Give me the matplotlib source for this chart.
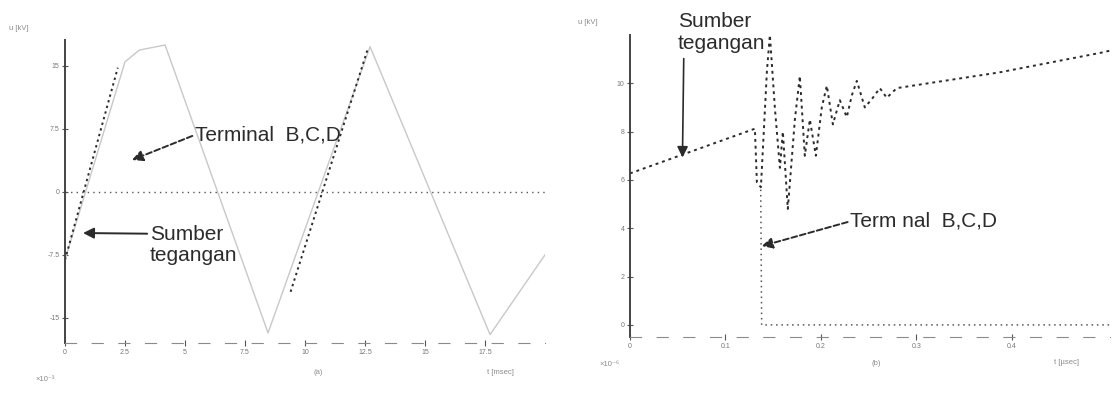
import numpy as np
from matplotlib import pyplot as plt

plt.rcParams['font.family'] = ['Liberation Sans', 'DejaVu Sans']

# (a) switching transient, time in ms, voltage in kV
tA_terminal = [0.0, 2.5, 3.1, 4.17, 8.46, 12.71, 17.71, 20.0]
vA_terminal = [-8.1, 15.5, 16.9, 17.5, -16.8, 17.3, -17.0, -7.5]
tA_source = [0.0, 2.2, np.nan, 9.4, 12.6]
vA_source = [-8.1, 14.8, np.nan, -11.9, 16.9]
tA_ticks = [0, 2.5, 5, 7.5, 10, 12.5, 15, 17.5]
vA_ticks = [-15, -7.5, 0, 7.5, 15]

# (b) lightning surge, time in usec
tB_source = [0.0, 0.1309, 0.1330, 0.1372, 0.1435, 0.1466, 0.1518, 0.1571,
             0.1602, 0.1654, 0.1728, 0.1780, 0.1832, 0.1885, 0.1948, 0.2010,
             0.2063, 0.2126, 0.2199, 0.2272, 0.2325, 0.2377, 0.2461, 0.2545,
             0.2618, 0.2691, 0.2796, 0.387, 0.493, 0.503]
vB_source = [6.27, 8.12, 5.9, 5.7, 10.5, 12.0, 9.0, 6.5,
             8.0, 4.8, 8.5, 10.3, 7.0, 8.5, 7.0, 9.0,
             9.9, 8.3, 9.3, 8.6, 9.5, 10.1, 9.0, 9.4,
             9.8, 9.4, 9.8, 10.45, 11.26, 11.35]
tB_terminal = [0.137, 0.138, 0.503]
vB_terminal = [5.6, 0.0, 0.0]
tB_ticks = [0, 0.1, 0.2, 0.3, 0.4]
vB_ticks = [0, 2, 4, 6, 8, 10]

ink = '#2b2b2b'
faint = '#c8c8c8'
lbl = dict(fontsize=15, color=ink)

fig = plt.figure(figsize=(11.15, 3.99), dpi=100)

def style(ax, xt, yt):
    for s in ['top', 'right']:
        ax.spines[s].set_visible(False)
    ax.spines['left'].set_color('#444444')
    ax.spines['left'].set_linewidth(1.4)
    ax.spines['bottom'].set_color('#8a8a8a')
    ax.spines['bottom'].set_linestyle((0, (10, 14)))
    ax.set_xticks(xt)
    ax.set_yticks(yt)
    ax.tick_params(direction='inout', length=4, width=0.8, colors='#555555',
                   labelsize=5, labelcolor='#777777', pad=2)

# left panel
ax1 = fig.add_axes([0.0583, 0.1404, 0.4305, 0.7594])
ax1.plot(tA_terminal, vA_terminal, color=faint, lw=1.0)
ax1.axhline(0, color='#555555', lw=1.0, ls=(0, (1, 3)))
ax1.plot(tA_source, vA_source, color=ink, lw=1.4, ls=(0, (1.2, 1.8)))
ax1.set_xlim(0, 20)
ax1.set_ylim(-18.0, 18.1)
style(ax1, tA_ticks, vA_ticks)
ax1.set_xticklabels([f'{t:g}' for t in tA_ticks])
ax1.set_yticklabels([f'{v:g}' for v in vA_ticks])

ax1.annotate('Terminal  B,C,D', xy=(2.79, 3.8), xytext=(5.42, 6.8),
             ha='left', va='center', **lbl,
             arrowprops=dict(arrowstyle='-|>', color=ink, lw=1.4,
                             ls=(0, (3, 1.5)), mutation_scale=16,
                             shrinkA=0, shrinkB=0, relpos=(0, 0.5)))
ax1.annotate('Sumber\ntegangan', xy=(0.75, -4.9), xytext=(3.54, -6.3),
             ha='left', va='center', multialignment='left',
             linespacing=1.1, **lbl,
             arrowprops=dict(arrowstyle='-|>', color=ink, lw=1.4,
                             mutation_scale=16, shrinkA=0, shrinkB=0,
                             relpos=(0, 0.78)))

# right panel
ax2 = fig.add_axes([0.565, 0.1554, 0.4305, 0.757])
ax2.plot(tB_terminal, vB_terminal, color='#555555', lw=1.1, ls=(0, (1, 2.5)))
ax2.plot(tB_source, vB_source, color=ink, lw=1.4, ls=(0, (1.5, 2)))
ax2.set_xlim(0, 0.503)
ax2.set_ylim(-0.5, 12.0)
style(ax2, tB_ticks, vB_ticks)
ax2.set_xticklabels([f'{t:g}' for t in tB_ticks])
ax2.set_yticklabels([f'{v:g}' for v in vB_ticks])

ax2.annotate('Sumber\ntegangan', xy=(0.055, 6.93), xytext=(0.05, 12.1),
             ha='left', va='center', multialignment='left',
             linespacing=1.2, annotation_clip=False, **lbl,
             arrowprops=dict(arrowstyle='-|>', color=ink, lw=1.2,
                             mutation_scale=16, shrinkA=2, shrinkB=0,
                             relpos=(0.07, 0)))
ax2.annotate('Term nal  B,C,D', xy=(0.138, 3.26), xytext=(0.231, 4.29),
             ha='left', va='center', **lbl,
             arrowprops=dict(arrowstyle='-|>', color=ink, lw=1.4,
                             ls=(0, (3, 1.5)), mutation_scale=16,
                             shrinkA=0, shrinkB=0, relpos=(0, 0.5)))

# axis captions
small = dict(fontsize=5.5, color='#8a8a8a')
fig.text(0.008, 0.925, 'u [kV]', **small)
fig.text(0.518, 0.94, 'u [kV]', **small)
fig.text(0.032, 0.045, '×10⁻³', **small)
fig.text(0.281, 0.062, '(a)', **small)
fig.text(0.437, 0.062, 't [msec]', **small)
fig.text(0.538, 0.082, '×10⁻⁶', **small)
fig.text(0.782, 0.085, '(b)', **small)
fig.text(0.945, 0.088, 't [µsec]', **small)

fig.savefig('out.png', dpi=100)
